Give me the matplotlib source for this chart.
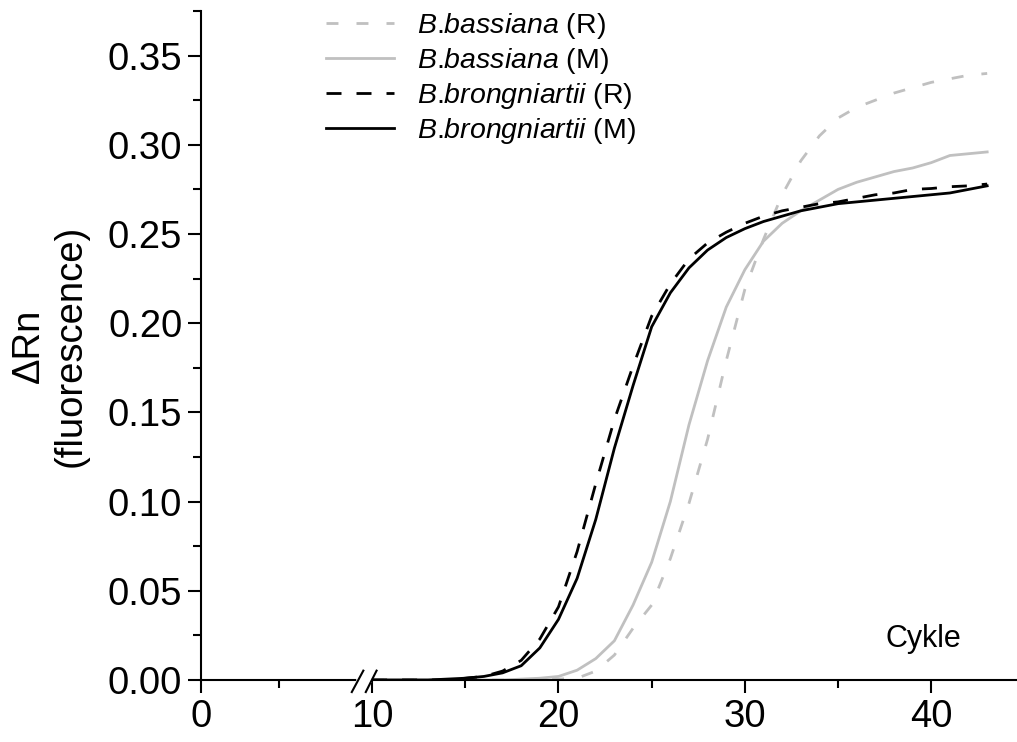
import numpy as np
import matplotlib
matplotlib.use("Agg")
import matplotlib.pyplot as plt
from matplotlib.patches import Rectangle
from matplotlib.ticker import FixedLocator, MultipleLocator, FormatStrFormatter

plt.rcParams['font.family'] = ['Liberation Sans', 'DejaVu Sans']
plt.rcParams['mathtext.fontset'] = 'custom'
plt.rcParams['mathtext.it'] = 'Liberation Sans:italic'
plt.rcParams['mathtext.rm'] = 'Liberation Sans'

# cycles and delta Rn values
cycles = list(range(10, 44))

bba_R = [0, 0, 0, 0, 0, 0, 0, 0, 0, 0, 0.0005, 0.001, 0.005, 0.014, 0.029,
         0.042, 0.068, 0.099, 0.135, 0.179, 0.219, 0.247, 0.272, 0.291, 0.305,
         0.315, 0.321, 0.325, 0.329, 0.332, 0.335, 0.337, 0.339, 0.340]
bba_M = [0, 0, 0, 0, 0, 0, 0, 0, 0.0005, 0.001, 0.002, 0.0055, 0.012, 0.022,
         0.042, 0.066, 0.100, 0.143, 0.179, 0.209, 0.230, 0.246, 0.256, 0.263,
         0.269, 0.275, 0.279, 0.282, 0.285, 0.287, 0.290, 0.294, 0.295, 0.296]
bbr_R = [0, 0, 0, 0, 0, 0.001, 0.002, 0.005, 0.011, 0.023, 0.041, 0.072, 0.110,
         0.146, 0.176, 0.204, 0.222, 0.236, 0.245, 0.251, 0.256, 0.260, 0.263,
         0.265, 0.267, 0.268, 0.270, 0.272, 0.273, 0.275, 0.2755, 0.2765, 0.277,
         0.278]
bbr_M = [0, 0, 0, 0, 0.0005, 0.001, 0.002, 0.004, 0.008, 0.018, 0.034, 0.057,
         0.090, 0.130, 0.165, 0.198, 0.217, 0.231, 0.241, 0.248, 0.253, 0.257,
         0.260, 0.263, 0.265, 0.267, 0.268, 0.269, 0.270, 0.271, 0.272, 0.273,
         0.275, 0.277]

labels = [r'$\mathit{B}$.$\mathit{bassiana}$ (R)', r'$\mathit{B}$.$\mathit{bassiana}$ (M)',
          r'$\mathit{B}$.$\mathit{brongniartii}$ (R)', r'$\mathit{B}$.$\mathit{brongniartii}$ (M)']

XMIN, XMAX = 0.82, 44.6
x_ticks = [10, 20, 30, 40]

fig = plt.figure(figsize=(10.17, 7.42), dpi=100)
ax = fig.add_axes([201 / 1017, 62 / 742, 1 - 201 / 1017, 669 / 742])

gray = '#c0c0c0'
lw = 2.0
ax.plot(cycles, bba_R, color=gray, lw=lw, ls=(0, (4.3, 6.5)), label=labels[0])
ax.plot(cycles, bba_M, color=gray, lw=lw, label=labels[1])
ax.plot(cycles, bbr_R, color='black', lw=lw, ls=(0, (5.4, 5.4)), label=labels[2])
ax.plot(cycles, bbr_M, color='black', lw=lw, label=labels[3])

ax.set_xlim(XMIN, XMAX)
ax.set_ylim(0, 0.375)

ax.spines['top'].set_visible(False)
ax.spines['right'].set_visible(False)
for s in ['left', 'bottom']:
    ax.spines[s].set_linewidth(1.5)

ax.xaxis.set_major_locator(FixedLocator([XMIN] + x_ticks))
ax.set_xticklabels(['0'] + [str(t) for t in x_ticks])
ax.xaxis.set_minor_locator(FixedLocator([5, 15, 25, 35]))
ax.yaxis.set_major_locator(MultipleLocator(0.05))
ax.yaxis.set_minor_locator(MultipleLocator(0.025))
ax.yaxis.set_major_formatter(FormatStrFormatter('%.2f'))
ax.tick_params(which='major', length=9.5, width=1.5, labelsize=27.5, pad=4)
ax.tick_params(which='minor', length=5.5, width=1.5)

# axis break marks near 10
tr = ax.get_xaxis_transform()
ax.plot([9.3, 9.85], [0, 0], color='white', lw=4, transform=tr, clip_on=False, zorder=4)
ax.plot([8.91, 9.53], [-0.018, 0.014], color='black', lw=1.5, transform=tr, clip_on=False, zorder=5)
ax.plot([9.66, 10.24], [-0.018, 0.014], color='black', lw=1.5, transform=tr, clip_on=False, zorder=5)

ax.text(-0.185, 0.5, '\u0394Rn\n(fluorescence)', transform=ax.transAxes,
        rotation=90, ha='center', va='center', multialignment='center',
        fontsize=27.5, linespacing=1.2)
ax.text(39.6, 0.0185, 'Cykle', fontsize=22, ha='center', va='baseline')

leg = ax.legend(loc='upper left', bbox_to_anchor=(326 / 1017, 1 - 11 / 742),
                bbox_transform=fig.transFigure, frameon=False, fontsize=20.5,
                borderpad=0, borderaxespad=0, handlelength=2.4,
                handletextpad=0.8, labelspacing=0.17)

# the legend is cut off below the last entry in the original
fig.add_artist(Rectangle((300 / 1017, 1 - 190 / 742), 400 / 1017, 41 / 742,
                         transform=fig.transFigure, color='white', zorder=10))

fig.savefig('out.png', dpi=100)
